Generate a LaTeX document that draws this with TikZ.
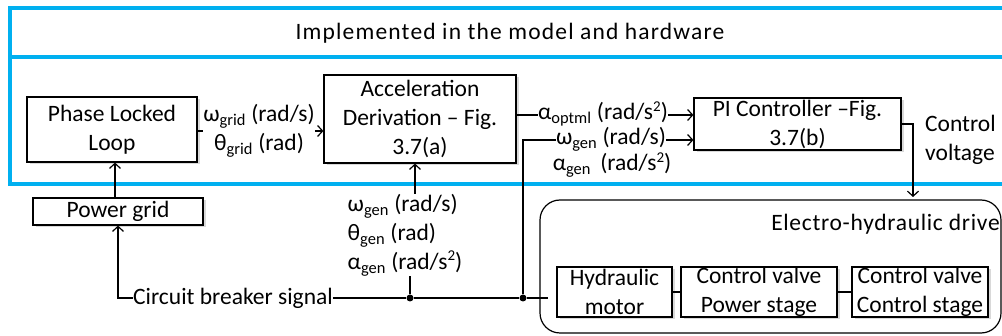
\documentclass[tikz,border=0pt]{standalone}
\usepackage{fontspec}
\setmainfont{Carlito}
\usetikzlibrary{arrows.meta,shadows}
\definecolor{frameblue}{HTML}{00B0F0}
% squared unit exponent, kept a little lower than \textsuperscript
\newcommand\sqexp{\raisebox{0.75ex}{\fontsize{15}{15}\selectfont 2}}
\begin{document}
\begin{tikzpicture}[x=1pt,y=-1pt,
  font=\fontsize{23.5}{29}\selectfont,
  box/.style={draw, line width=1.2pt, fill=white, align=center, inner sep=0pt,
    drop shadow={shadow xshift=2.5pt, shadow yshift=-2.5pt, opacity=0.3}},
  lbl/.style={inner sep=0pt, align=center},
  siglbl/.style={lbl, text height=14pt, text depth=4pt},
  wire/.style={line width=1.2pt},
  arr/.style={wire, -{Straight Barb[length=5pt,width=11pt]}},
  dot/.style={circle, fill, inner sep=0pt, minimum size=7pt}]
\useasboundingbox (0,0) rectangle (1002,336);
\clip (0,0) rectangle (1002,336);

% blue frame of the implemented part
\draw[frameblue, line width=4pt] (10,8) rectangle (1014,184);
\draw[frameblue, line width=4pt] (10,57) -- (1014,57);
\node[lbl, font=\fontsize{23.5}{29}\selectfont\addfontfeatures{LetterSpace=5}] (title) at (510,33) {Implemented in the model and hardware};

% electro-hydraulic drive
\draw[line width=1.2pt, rounded corners=20pt] (540,200) rectangle (1001,333);
\node[lbl, anchor=east, font=\fontsize{23.5}{29}\selectfont\addfontfeatures{LetterSpace=3}] (ehd) at (1000,224) {Electro-hydraulic drive};

% blocks
\node[box, minimum width=170pt, minimum height=65pt] (pll) at (112,129.5) {Phase Locked\\Loop};
\node[box, minimum width=192pt, minimum height=88pt] (acc) at (420,119) {Acceleration\\Derivation -- Fig.\\3.7(a)};
\node[box, minimum width=207pt, minimum height=52pt] (pi) at (797.5,124) {PI Controller --Fig.\\3.7(b)};
\node[box, minimum width=170pt, minimum height=27pt] (grid) at (118,211.5) {Power grid};
\node[box, minimum width=115pt, minimum height=50pt] (hm) at (614.5,292) {Hydraulic\\motor};
\node[box, minimum width=156pt, minimum height=50pt] (cvp) at (759,292) {Control valve\\Power stage};
\node[box, minimum width=136pt, minimum height=50pt] (cvc) at (920,292) {Control valve\\Control stage};

% signal labels
\node[lbl] (gridsig) at (259,131) {ω\textsubscript{grid} (rad/s)\\θ\textsubscript{grid} (rad)};
\node[lbl, align=left] (gensig) at (405,235) {ω\textsubscript{gen} (rad/s)\\θ\textsubscript{gen} (rad)\\α\textsubscript{gen} (rad/s\sqexp)};
\node[siglbl] (aopt) at (603,115) {α\textsubscript{optml} (rad/s\sqexp)};
\node[siglbl] (wgen) at (611,140) {ω\textsubscript{gen} (rad/s)};
\node[siglbl] (agen) at (612,166) {α\textsubscript{gen}\, (rad/s\sqexp)};
\node[lbl, align=left, anchor=west] (cv) at (925,140) {Control\\voltage};
\node[lbl] (cb) at (233,298) {Circuit breaker signal};

% junctions and free ends
\node[dot] (j1) at (410,298) {};
\node[dot] (j2) at (523,298) {};
\coordinate (drvin) at (548,298);
\coordinate (pibend) at (913,124);

% connectors
\draw[arr] (grid.north -| 115,0) -- (pll.south -| 115,0);
\draw[wire] (pll.east |- gridsig) -- (gridsig.west);
\draw[arr] (gridsig.east) -- (gridsig.east -| acc.west);
\draw[wire] (acc.east |- aopt) -- (aopt.west);
\draw[arr] (aopt.east) -- (aopt.east -| pi.west);
\draw[wire] (j2) -- (j2 |- wgen) -- (wgen.west);
\draw[arr] (wgen.east) -- (wgen.east -| pi.west);
\draw[arr] (gensig.north -| 415,0) -- (acc.south -| 415,0);
\draw[wire] (j1) -- (j1 |- gensig.south);
\draw[arr] (pi.east |- pibend) -- (pibend) -- (pibend |- 0,197);
\draw[arr] (cb.west) -- (118,298) -- (grid.south -| 118,0);
\draw[wire] (cb.east) -- (j1) -- (j2) -- (drvin);
\draw[wire] (hm.east) -- (cvp.west);
\draw[wire] (cvp.east) -- (cvc.west);
\end{tikzpicture}
\end{document}
